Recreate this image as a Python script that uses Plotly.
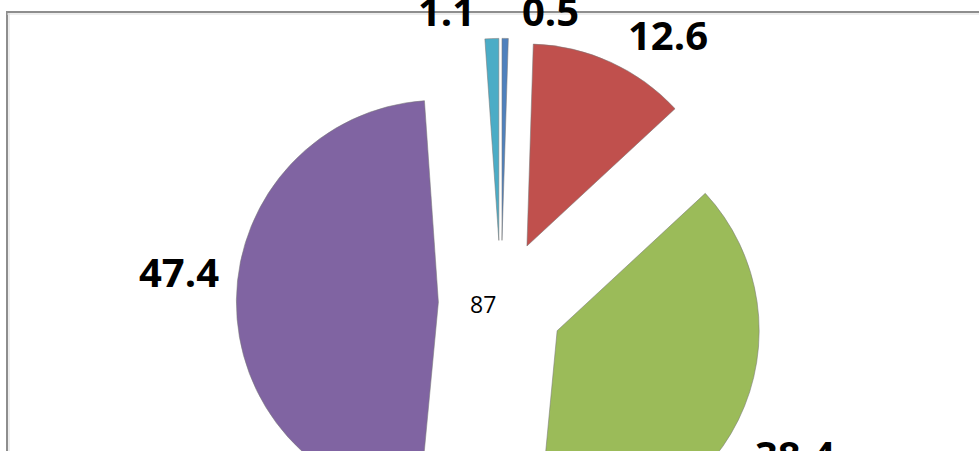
import math
import plotly.graph_objects as go

# Share of each category (percent), clockwise from 12 o'clock
categories = ["A", "B", "C", "D", "E"]
values = [0.5, 12.6, 38.4, 47.4, 1.1]
colors = ["#4F81BD", "#C0504D", "#9BBB59", "#8064A2", "#4BACC6"]
center_label = "87"

W, H = 979, 600          # figure is taller than the window; the lower part is cut off
CX, CY = 501, 303        # pie centre in pixels (from top-left)
R = 202                  # pie radius in pixels
PULL = 0.31              # explosion, as a fraction of the radius

box = 2 * R * (1 + PULL)
dom_x = [(CX - box / 2) / W, (CX + box / 2) / W]
dom_y = [1 - (CY + box / 2) / H, 1 - (CY - box / 2) / H]

fig = go.Figure(
    go.Pie(
        labels=categories,
        values=values,
        sort=False,
        direction="clockwise",
        rotation=0,
        pull=[PULL] * len(values),
        marker=dict(colors=colors, line=dict(color="rgba(120,120,120,0.55)", width=1)),
        textinfo="none",
        automargin=False,
        domain=dict(x=dom_x, y=dom_y),
        showlegend=False,
        hoverinfo="label+value",
    )
)

def px(x):
    return x / W

def py(y):
    return 1 - y / H

# Value labels at the outer end of each exploded slice, offset diagonally
# away from the slice corner-first (outside-end placement).
total = sum(values)
annotations = []
cum = 0.0
for v in values:
    mid = 2 * math.pi * (cum + v / 2) / total
    cum += v
    s, c = math.sin(mid), math.cos(mid)
    bx = CX + R * (1 + PULL) * s
    by = CY - R * (1 + PULL) * c
    annotations.append(dict(
        text=f"{v}", x=px(bx), y=py(by), xref="paper", yref="paper",
        showarrow=False,
        xanchor="left" if s >= 0 else "right",
        yanchor="middle",
        xshift=15 if s >= 0 else -15,
        yshift=28 if c >= 0 else -34,
        font=dict(family="Open Sans", size=40, color="#000000", weight="bold"),
    ))

annotations.append(dict(
    text=center_label, x=px(483), y=py(304), xref="paper", yref="paper",
    showarrow=False, font=dict(family="Open Sans", size=23, color="#000000"),
    xanchor="center", yanchor="middle",
))

shapes = [
    # blank out everything above the chart frame
    dict(type="rect", xref="paper", yref="paper", x0=0, x1=1, y0=py(11), y1=1,
         fillcolor="white", line=dict(width=0), layer="above"),
    # chart frame (top and left edges)
    dict(type="line", xref="paper", yref="paper", x0=px(6), x1=1, y0=py(12), y1=py(12),
         line=dict(color="#8E8E8E", width=2), layer="above"),
    dict(type="line", xref="paper", yref="paper", x0=px(7), x1=px(7), y0=0, y1=py(11),
         line=dict(color="#8E8E8E", width=2), layer="above"),
    dict(type="line", xref="paper", yref="paper", x0=px(7), x1=1, y0=py(14), y1=py(14),
         line=dict(color="#DDDDDD", width=1), layer="above"),
    dict(type="line", xref="paper", yref="paper", x0=px(9), x1=px(9), y0=0, y1=py(13),
         line=dict(color="#DDDDDD", width=1), layer="above"),
]

fig.update_layout(
    width=W,
    height=H,
    margin=dict(l=0, r=0, t=0, b=0, autoexpand=False),
    paper_bgcolor="white",
    plot_bgcolor="white",
    shapes=shapes,
    annotations=annotations,
)

fig.write_html(
    "out.html",
    post_script="document.documentElement.style.overflow='hidden';"
                "document.body.style.overflow='hidden';document.body.style.margin='0';",
)
